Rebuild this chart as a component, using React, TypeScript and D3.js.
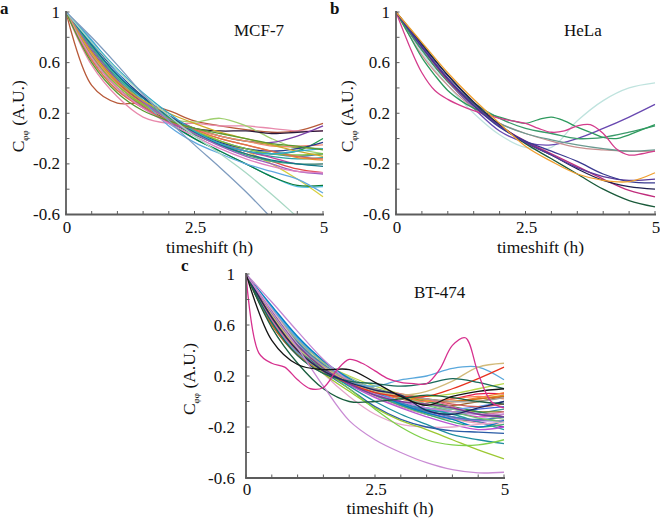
import React from "react";
import * as d3 from "d3";

// ---------- DATA ----------
// Each series is sampled evenly from 0 to 5 h (11 values = 0.5 h steps, 21 values = 0.25 h steps)
const xTicks = [0, 0.5, 1, 1.5, 2, 2.5, 3, 3.5, 4, 4.5, 5];
const xTickLabels = ["0", "", "", "", "", "2.5", "", "", "", "", "5"];
const yTicks = [1, 0.8, 0.6, 0.4, 0.2, 0, -0.2, -0.4, -0.6];
const yTickLabels = ["1", "", "0.6", "", "0.2", "", "-0.2", "", "-0.6"];
const panelTitles = ["MCF-7", "HeLa", "BT-474"];
const panelLetters = ["a", "b", "c"];

const mcf7Colors = [
  "#b85a3a", "#e88aac", "#a0d070", "#2a1838", "#7a40a8", "#1f9a50", "#2aa0a0", "#50c0e8",
  "#3a78c0", "#e8902a", "#d8d040", "#0a7a3a", "#e04848", "#c040a0", "#88a040", "#f08a70",
  "#253a88", "#40b080", "#80c040", "#60a8e0", "#107888", "#9a60c0", "#e06a50", "#d0a828",
  "#e080c0", "#30a8c8", "#5a9a30", "#a8d8c4", "#7f9cbf",
];
const mcf7Values = [
  [1, 0.42, 0.28, 0.28, 0.22, 0.14, 0.1, 0.07, 0.05, 0.06, 0.12],
  [1, 0.58, 0.33, 0.17, 0.12, 0.12, 0.1, 0.1, 0.08, 0.06, 0.06],
  [1, 0.62, 0.38, 0.25, 0.16, 0.13, 0.16, 0.1, 0.0, -0.08, -0.12],
  [1, 0.7, 0.45, 0.28, 0.16, 0.08, 0.06, 0.06, 0.04, 0.05, 0.06],
  [1, 0.72, 0.47, 0.3, 0.18, 0.08, 0.02, -0.02, -0.03, 0.02, 0.1],
  [1, 0.68, 0.44, 0.28, 0.14, 0.03, -0.05, -0.1, -0.12, -0.1, 0.0],
  [1, 0.74, 0.5, 0.3, 0.15, 0.04, -0.04, -0.1, -0.14, -0.16, -0.15],
  [1, 0.75, 0.48, 0.28, 0.12, 0.0, -0.1, -0.2, -0.3, -0.38, -0.38],
  [1, 0.73, 0.5, 0.32, 0.18, 0.06, -0.02, -0.08, -0.12, -0.14, -0.12],
  [1, 0.66, 0.42, 0.26, 0.14, 0.06, 0.0, -0.05, -0.1, -0.15, -0.17],
  [1, 0.7, 0.46, 0.3, 0.17, 0.07, -0.02, -0.1, -0.2, -0.32, -0.46],
  [1, 0.7, 0.46, 0.28, 0.13, 0.0, -0.1, -0.2, -0.3, -0.37, -0.37],
  [1, 0.68, 0.44, 0.28, 0.15, 0.04, -0.05, -0.12, -0.18, -0.24, -0.27],
  [1, 0.66, 0.4, 0.25, 0.13, 0.05, -0.04, -0.1, -0.15, -0.2, -0.2],
  [1, 0.64, 0.4, 0.26, 0.16, 0.08, 0.02, -0.02, -0.05, -0.07, -0.08],
  [1, 0.67, 0.43, 0.27, 0.15, 0.07, 0.02, -0.02, -0.06, -0.06, -0.05],
  [1, 0.76, 0.52, 0.33, 0.18, 0.06, -0.03, -0.08, -0.1, -0.08, -0.03],
  [1, 0.72, 0.48, 0.3, 0.16, 0.05, -0.05, -0.13, -0.18, -0.2, -0.2],
  [1, 0.65, 0.42, 0.27, 0.16, 0.06, -0.02, -0.08, -0.12, -0.13, -0.12],
  [1, 0.78, 0.52, 0.3, 0.1, -0.03, -0.12, -0.2, -0.26, -0.32, -0.43],
  [1, 0.74, 0.5, 0.32, 0.17, 0.05, -0.05, -0.12, -0.17, -0.2, -0.22],
  [1, 0.7, 0.46, 0.29, 0.15, 0.04, -0.06, -0.14, -0.2, -0.26, -0.28],
  [1, 0.62, 0.38, 0.24, 0.14, 0.07, 0.0, -0.05, -0.1, -0.14, -0.16],
  [1, 0.68, 0.45, 0.3, 0.2, 0.12, 0.05, 0.0, -0.05, -0.1, -0.14],
  [1, 0.64, 0.4, 0.24, 0.12, 0.02, -0.08, -0.16, -0.22, -0.26, -0.27],
  [1, 0.77, 0.55, 0.36, 0.2, 0.06, -0.04, -0.1, -0.12, -0.1, -0.08],
  [1, 0.6, 0.36, 0.22, 0.14, 0.08, 0.04, 0.0, -0.04, -0.06, -0.09],
  [1, 0.76, 0.54, 0.35, 0.18, 0.02, -0.12, -0.27, -0.44, -0.62, -0.8],
  [1, 0.8, 0.58, 0.35, 0.14, -0.05, -0.23, -0.42, -0.63, -0.85, -1.05],
];

const helaColors = [
  "#bfe3de", "#6848b0", "#c89090", "#6a9a90", "#3a9a6a", "#2e9a5e", "#d43c8c",
  "#c02c7c", "#1a5a3a", "#202050", "#5a3a9a", "#3a3a90", "#f0a030",
];
const helaValues = [
  [1, 0.68, 0.42, 0.2, 0.03, -0.07, -0.07, 0.14, 0.3, 0.4, 0.44],
  [1, 0.7, 0.45, 0.24, 0.06, -0.03, -0.05, 0.0, 0.08, 0.17, 0.27],
  [1, 0.66, 0.42, 0.24, 0.12, 0.04, -0.02, -0.07, -0.09, -0.1, -0.1],
  [1, 0.7, 0.45, 0.26, 0.12, 0.04, -0.01, -0.05, -0.08, -0.1, -0.09],
  [1, 0.7, 0.45, 0.28, 0.16, 0.08, 0.04, 0.0, 0.01, 0.05, 0.1],
  [1, 0.82, 0.64, 0.5, 0.38, 0.3, 0.24, 0.2, 0.17, 0.14, 0.12, 0.15, 0.17, 0.14, 0.09, 0.05, 0.01, 0.0, 0.03, 0.07, 0.11],
  [1, 0.74, 0.52, 0.38, 0.31, 0.26, 0.22, 0.19, 0.16, 0.14, 0.12, 0.08, 0.05, 0.06, 0.1, 0.11, 0.04, -0.08, -0.13, -0.12, -0.1],
  [1, 0.72, 0.46, 0.26, 0.1, -0.02, -0.12, -0.22, -0.32, -0.41, -0.46],
  [1, 0.75, 0.5, 0.28, 0.1, -0.04, -0.16, -0.28, -0.4, -0.49, -0.54],
  [1, 0.74, 0.5, 0.29, 0.11, -0.03, -0.13, -0.24, -0.33, -0.38, -0.4],
  [1, 0.73, 0.48, 0.27, 0.1, -0.03, -0.13, -0.23, -0.3, -0.33, -0.32],
  [1, 0.72, 0.47, 0.26, 0.09, -0.02, -0.1, -0.18, -0.28, -0.34, -0.35],
  [1, 0.76, 0.52, 0.31, 0.12, -0.06, -0.18, -0.28, -0.33, -0.34, -0.27],
];

const bt474Colors = [
  "#3cb44b", "#e6194b", "#4363d8", "#f58231", "#911eb4", "#42b8e4", "#e040c8", "#b8d848",
  "#469990", "#9a6324", "#20a0a0", "#808020", "#f0a0b8", "#2e8b57", "#ff7f50", "#6495ed",
  "#daa520", "#9370db", "#3cb371", "#cd5c5c", "#4682b4", "#d2691e", "#8fbc8f", "#ba55d3",
  "#70c070", "#e07090", "#0080c0", "#a0a0a0", "#c487d2", "#e6a6cc", "#1f8fa0", "#2a5ca6",
  "#9cc832", "#7ed04a", "#5aa8dc", "#d2ba7a", "#e8321e", "#19695a", "#7a3a9c", "#1a2a62",
  "#1b5e3f", "#c98bd4", "#141414", "#d6308e",
];
const bt474Values = [
  [1, 0.64, 0.4, 0.25, 0.14, 0.04, -0.04, -0.1, -0.14, -0.15, -0.12],
  [1, 0.7, 0.44, 0.27, 0.16, 0.08, 0.03, 0.0, 0.02, 0.06, 0.06],
  [1, 0.72, 0.47, 0.29, 0.16, 0.06, -0.02, -0.07, -0.08, -0.06, -0.04],
  [1, 0.62, 0.38, 0.24, 0.15, 0.08, 0.03, 0.0, 0.0, 0.03, 0.07],
  [1, 0.68, 0.43, 0.26, 0.14, 0.05, -0.03, -0.08, -0.12, -0.16, -0.2],
  [1, 0.74, 0.5, 0.31, 0.17, 0.06, -0.02, -0.06, -0.08, -0.1, -0.12],
  [1, 0.66, 0.41, 0.25, 0.15, 0.07, 0.0, -0.05, -0.08, -0.12, -0.1],
  [1, 0.7, 0.46, 0.3, 0.2, 0.12, 0.06, 0.04, 0.06, 0.1, 0.14],
  [1, 0.65, 0.4, 0.24, 0.13, 0.04, -0.03, -0.08, -0.1, -0.09, -0.06],
  [1, 0.6, 0.36, 0.22, 0.14, 0.07, 0.02, -0.02, -0.03, 0.0, 0.04],
  [1, 0.67, 0.42, 0.26, 0.15, 0.06, -0.01, -0.06, -0.1, -0.16, -0.22],
  [1, 0.63, 0.39, 0.24, 0.15, 0.08, 0.03, -0.02, -0.06, -0.08, -0.08],
  [1, 0.69, 0.44, 0.27, 0.14, 0.04, -0.04, -0.1, -0.14, -0.17, -0.18],
  [1, 0.61, 0.37, 0.24, 0.16, 0.1, 0.05, 0.0, -0.04, -0.08, -0.12],
  [1, 0.64, 0.4, 0.25, 0.15, 0.08, 0.02, 0.0, 0.02, 0.04, 0.02],
  [1, 0.73, 0.49, 0.31, 0.18, 0.08, 0.0, -0.05, -0.06, -0.04, 0.0],
  [1, 0.66, 0.41, 0.25, 0.16, 0.09, 0.04, 0.01, 0.0, 0.02, 0.05],
  [1, 0.7, 0.45, 0.28, 0.15, 0.05, -0.03, -0.09, -0.13, -0.15, -0.15],
  [1, 0.64, 0.4, 0.25, 0.14, 0.05, -0.03, -0.1, -0.16, -0.2, -0.18],
  [1, 0.68, 0.43, 0.27, 0.16, 0.09, 0.05, 0.02, -0.02, -0.04, -0.02],
  [1, 0.7, 0.46, 0.29, 0.17, 0.07, -0.01, -0.07, -0.12, -0.14, -0.12],
  [1, 0.6, 0.37, 0.23, 0.14, 0.08, 0.04, 0.02, 0.0, 0.02, 0.04],
  [1, 0.72, 0.48, 0.31, 0.19, 0.1, 0.03, -0.02, -0.06, -0.1, -0.14],
  [1, 0.64, 0.39, 0.24, 0.13, 0.03, -0.05, -0.12, -0.18, -0.22, -0.2],
  [1, 0.67, 0.43, 0.27, 0.17, 0.09, 0.03, -0.03, -0.08, -0.13, -0.16],
  [1, 0.63, 0.39, 0.24, 0.15, 0.09, 0.06, 0.02, -0.04, -0.1, -0.08],
  [1, 0.75, 0.51, 0.32, 0.18, 0.07, -0.02, -0.09, -0.14, -0.2, -0.15],
  [1, 0.69, 0.44, 0.28, 0.17, 0.1, 0.05, 0.02, 0.0, 0.0, 0.03],
  [1, 0.78, 0.55, 0.33, 0.16, 0.06, 0.0, -0.05, -0.08, -0.1, -0.1],
  [1, 0.72, 0.45, 0.22, 0.04, -0.1, -0.18, -0.2, -0.2, -0.18, -0.16],
  [1, 0.68, 0.42, 0.25, 0.12, 0.0, -0.1, -0.18, -0.26, -0.3, -0.33],
  [1, 0.7, 0.44, 0.24, 0.1, -0.04, -0.14, -0.2, -0.23, -0.24, -0.25],
  [1, 0.66, 0.4, 0.22, 0.08, -0.05, -0.15, -0.22, -0.3, -0.38, -0.45],
  [1, 0.7, 0.44, 0.25, 0.1, -0.06, -0.2, -0.3, -0.34, -0.34, -0.3],
  [1, 0.62, 0.38, 0.24, 0.15, 0.12, 0.17, 0.2, 0.26, 0.27, 0.17],
  [1, 0.68, 0.42, 0.27, 0.15, 0.08, 0.05, 0.08, 0.16, 0.27, 0.3],
  [1, 0.66, 0.4, 0.24, 0.14, 0.07, 0.04, 0.04, 0.1, 0.18, 0.27],
  [1, 0.62, 0.36, 0.22, 0.16, 0.14, 0.12, 0.14, 0.18, 0.15, 0.1],
  [1, 0.7, 0.44, 0.26, 0.14, 0.05, 0.0, -0.02, -0.05, -0.1, -0.12],
  [1, 0.66, 0.4, 0.24, 0.15, 0.09, 0.05, -0.07, -0.1, -0.05, 0.0],
  [1, 0.58, 0.3, 0.1, 0.0, 0.0, 0.02, 0.05, 0.03, 0.0, -0.02],
  [1, 0.7, 0.42, 0.12, -0.15, -0.3, -0.4, -0.48, -0.535, -0.56, -0.555],
  [1, 0.48, 0.29, 0.25, 0.25, 0.15, 0.04, -0.03, 0.04, 0.08, 0.1],
  [1, 0.38, 0.3, 0.27, 0.17, 0.1, 0.11, 0.24, 0.33, 0.3, 0.24, 0.18, 0.15, 0.14, 0.14, 0.25, 0.44, 0.5, 0.22, 0.0, -0.05],
];

// ---------- LAYOUT ----------
const W = 660;
const H = 519;
const FONT_STYLE = { fontFamily: '"Liberation Serif", Tinos, "Times New Roman", Times, serif' };

type Panel = {
  idx: number;
  colors: string[];
  values: number[][];
  x0: number; x1: number; y0: number; y1: number;
  letterX: number; letterY: number;
  yLabelX: number; tickGap: number;
  xTickDy: number; xLabelDy: number;
};

const panels: Panel[] = [
  { idx: 0, colors: mcf7Colors, values: mcf7Values, x0: 66, x1: 323, y0: 12, y1: 214.5,
    letterX: 0, letterY: 14, yLabelX: 24, tickGap: 6, xTickDy: 18.5, xLabelDy: 38.5 },
  { idx: 1, colors: helaColors, values: helaValues, x0: 396, x1: 655, y0: 12, y1: 214.5,
    letterX: 330, letterY: 14, yLabelX: 353, tickGap: 6, xTickDy: 18.5, xLabelDy: 38.5 },
  { idx: 2, colors: bt474Colors, values: bt474Values, x0: 246, x1: 504, y0: 274, y1: 478,
    letterX: 181, letterY: 271, yLabelX: 195, tickGap: 11, xTickDy: 16.5, xLabelDy: 35.5 },
];

function PanelView({ p }: { p: Panel }) {
  const x = d3.scaleLinear().domain([0, 5]).range([p.x0, p.x1]);
  const y = d3.scaleLinear().domain([-0.6, 1]).range([p.y1, p.y0]);
  const line = d3
    .line<[number, number]>()
    .x((d) => x(d[0]))
    .y((d) => y(d[1]))
    .curve(d3.curveCatmullRom.alpha(0.5));
  const clipId = `clip-${p.idx}`;
  const axisColor = "#5c5c5c";
  const yMid = (p.y0 + p.y1) / 2 + 3;
  return (
    <g>
      <defs>
        <clipPath id={clipId}>
          <rect x={p.x0} y={p.y0 - 2} width={p.x1 - p.x0 + 2} height={p.y1 - p.y0 + 2} />
        </clipPath>
      </defs>
      <g clipPath={`url(#${clipId})`}>
        {p.values.map((vals, i) => {
          const n = vals.length;
          const pts: [number, number][] = vals.map((v, k) => [(k * 5) / (n - 1), v]);
          return (
            <path key={i} d={line(pts) || ""} fill="none" stroke={p.colors[i]}
              strokeWidth={1.3} strokeLinejoin="round" />
          );
        })}
      </g>
      <line x1={p.x0} x2={p.x0} y1={p.y0 - 1} y2={p.y1} stroke={axisColor} strokeWidth={1.8} />
      <line x1={p.x0 - 0.9} x2={p.x1 + 1} y1={p.y1} y2={p.y1} stroke={axisColor} strokeWidth={1.8} />
      {yTicks.map((t, i) => (
        <g key={"y" + i}>
          <line x1={p.x0} x2={p.x0 + 3.5} y1={y(t)} y2={y(t)} stroke={axisColor} strokeWidth={1} />
          {yTickLabels[i] && (
            <text x={p.x0 - p.tickGap} y={y(t) + 5.5} textAnchor="end" style={FONT_STYLE} fontSize={17} fill="#111">
              {yTickLabels[i]}
            </text>
          )}
        </g>
      ))}
      {xTicks.map((t, i) => (
        <g key={"x" + i}>
          <line x1={x(t)} x2={x(t)} y1={p.y1} y2={p.y1 - 3.5} stroke={axisColor} strokeWidth={1} />
          {xTickLabels[i] && (
            <text x={x(t) + 1} y={p.y1 + p.xTickDy} textAnchor="middle" style={FONT_STYLE} fontSize={17} fill="#111">
              {xTickLabels[i]}
            </text>
          )}
        </g>
      ))}
      <text x={(p.x0 + p.x1) / 2 + 15} y={p.y1 + p.xLabelDy} textAnchor="middle" style={FONT_STYLE} fontSize={17.5} fill="#111">
        timeshift (h)
      </text>
      <text transform={`translate(${p.yLabelX},${yMid}) rotate(-90)`} textAnchor="middle" style={FONT_STYLE} fontSize={17.5} fill="#111">
        C<tspan fontSize={9} dy={4}>φφ</tspan>
        <tspan dy={-4}> (A.U.)</tspan>
      </text>
      <text x={p.x0 + 168} y={p.y0 + 24} style={FONT_STYLE} fontSize={17} fill="#111">
        {panelTitles[p.idx]}
      </text>
      <text x={p.letterX} y={p.letterY} style={FONT_STYLE} fontSize={17} fontWeight="bold" fill="#111">
        {panelLetters[p.idx]}
      </text>
    </g>
  );
}

export default function App() {
  return (
    <svg width={W} height={H} viewBox={`0 0 ${W} ${H}`}
      style={{ position: "absolute", left: 0, top: 0, background: "#fff" }}>
      <rect width={W} height={H} fill="#fff" />
      {panels.map((p) => (
        <PanelView key={p.idx} p={p} />
      ))}
    </svg>
  );
}
